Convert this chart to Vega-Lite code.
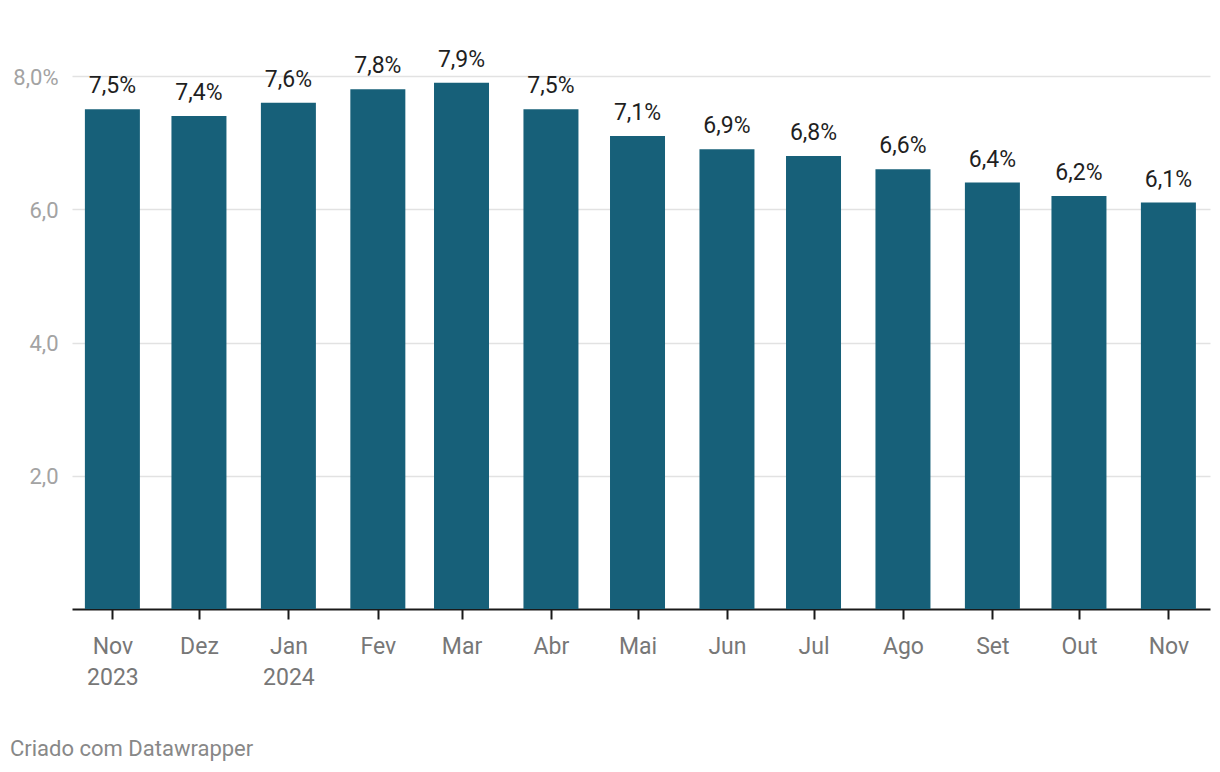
{
  "$schema": "https://vega.github.io/schema/vega-lite/v6.json",
  "autosize": "none",
  "width": 1138,
  "height": 533,
  "padding": {"left": 72, "top": 76, "right": 10, "bottom": 163},
  "background": "white",
  "config": {
    "view": {"stroke": null},
    "font": "Roboto",
    "scale": {"continuousPadding": 0}
  },
  "title": {
    "text": "Criado com Datawrapper",
    "orient": "bottom",
    "anchor": "start",
    "frame": "group",
    "dx": -62,
    "offset": 50,
    "font": "Roboto",
    "fontSize": 22,
    "fontWeight": "normal",
    "color": "#888888"
  },
  "data": {
    "values": [
      {"mes": "2023-11-01", "taxa": 7.5},
      {"mes": "2023-12-01", "taxa": 7.4},
      {"mes": "2024-01-01", "taxa": 7.6},
      {"mes": "2024-02-01", "taxa": 7.8},
      {"mes": "2024-03-01", "taxa": 7.9},
      {"mes": "2024-04-01", "taxa": 7.5},
      {"mes": "2024-05-01", "taxa": 7.1},
      {"mes": "2024-06-01", "taxa": 6.9},
      {"mes": "2024-07-01", "taxa": 6.8},
      {"mes": "2024-08-01", "taxa": 6.6},
      {"mes": "2024-09-01", "taxa": 6.4},
      {"mes": "2024-10-01", "taxa": 6.2},
      {"mes": "2024-11-01", "taxa": 6.1}
    ]
  },
  "encoding": {
    "x": {
      "field": "mes",
      "type": "temporal",
      "scale": {
        "type": "utc",
        "padding": 0,
        "domain": [
          {"year": 2023, "month": 10, "date": 18, "utc": true},
          {"year": 2024, "month": 11, "date": 15, "hours": 10, "utc": true}
        ]
      },
      "axis": {
        "title": null,
        "values": [
          {"year": 2023, "month": 11, "date": 1, "utc": true},
          {"year": 2023, "month": 12, "date": 1, "utc": true},
          {"year": 2024, "month": 1, "date": 1, "utc": true},
          {"year": 2024, "month": 2, "date": 1, "utc": true},
          {"year": 2024, "month": 3, "date": 1, "utc": true},
          {"year": 2024, "month": 4, "date": 1, "utc": true},
          {"year": 2024, "month": 5, "date": 1, "utc": true},
          {"year": 2024, "month": 6, "date": 1, "utc": true},
          {"year": 2024, "month": 7, "date": 1, "utc": true},
          {"year": 2024, "month": 8, "date": 1, "utc": true},
          {"year": 2024, "month": 9, "date": 1, "utc": true},
          {"year": 2024, "month": 10, "date": 1, "utc": true},
          {"year": 2024, "month": 11, "date": 1, "utc": true}
        ],
        "labelExpr": "(utcyear(datum.value) == 2023 && utcmonth(datum.value) == 10) || utcmonth(datum.value) == 0 ? [['Jan','Fev','Mar','Abr','Mai','Jun','Jul','Ago','Set','Out','Nov','Dez'][utcmonth(datum.value)], '' + utcyear(datum.value)] : ['Jan','Fev','Mar','Abr','Mai','Jun','Jul','Ago','Set','Out','Nov','Dez'][utcmonth(datum.value)]",
        "labelFont": "Roboto",
        "labelFontSize": 23,
        "labelColor": "#777777",
        "labelLineHeight": 31,
        "labelPadding": 16,
        "labelFlush": false,
        "labelOverlap": false,
        "domainColor": "#1a1a1a",
        "domainWidth": 2,
        "tickColor": "#1a1a1a",
        "tickWidth": 2,
        "tickSize": 10,
        "grid": false
      }
    }
  },
  "layer": [
    {
      "mark": {"type": "bar", "width": 55, "color": "#176079"},
      "encoding": {
        "y": {
          "field": "taxa",
          "type": "quantitative",
          "scale": {"domain": [0, 8], "nice": false},
          "axis": {
            "title": null,
            "values": [2, 4, 6, 8],
            "labelExpr": "replace(format(datum.value, '.1f'), '.', ',') + (datum.value == 8 ? '%' : '')",
            "labelFont": "Roboto",
            "labelFontSize": 22,
            "labelColor": "#a3a3a3",
            "labelPadding": 14,
            "labelOffset": 1,
            "ticks": false,
            "domain": false,
            "gridColor": "#e2e2e2",
            "gridWidth": 1.5
          }
        }
      }
    },
    {
      "mark": {
        "type": "text",
        "baseline": "alphabetic",
        "dy": -16,
        "font": "Roboto",
        "fontSize": 23,
        "color": "#1f1f1f",
        "text": {"expr": "replace(format(datum.taxa, '.1f'), '.', ',') + '%'"}
      },
      "encoding": {
        "y": {"field": "taxa", "type": "quantitative"}
      }
    }
  ]
}
